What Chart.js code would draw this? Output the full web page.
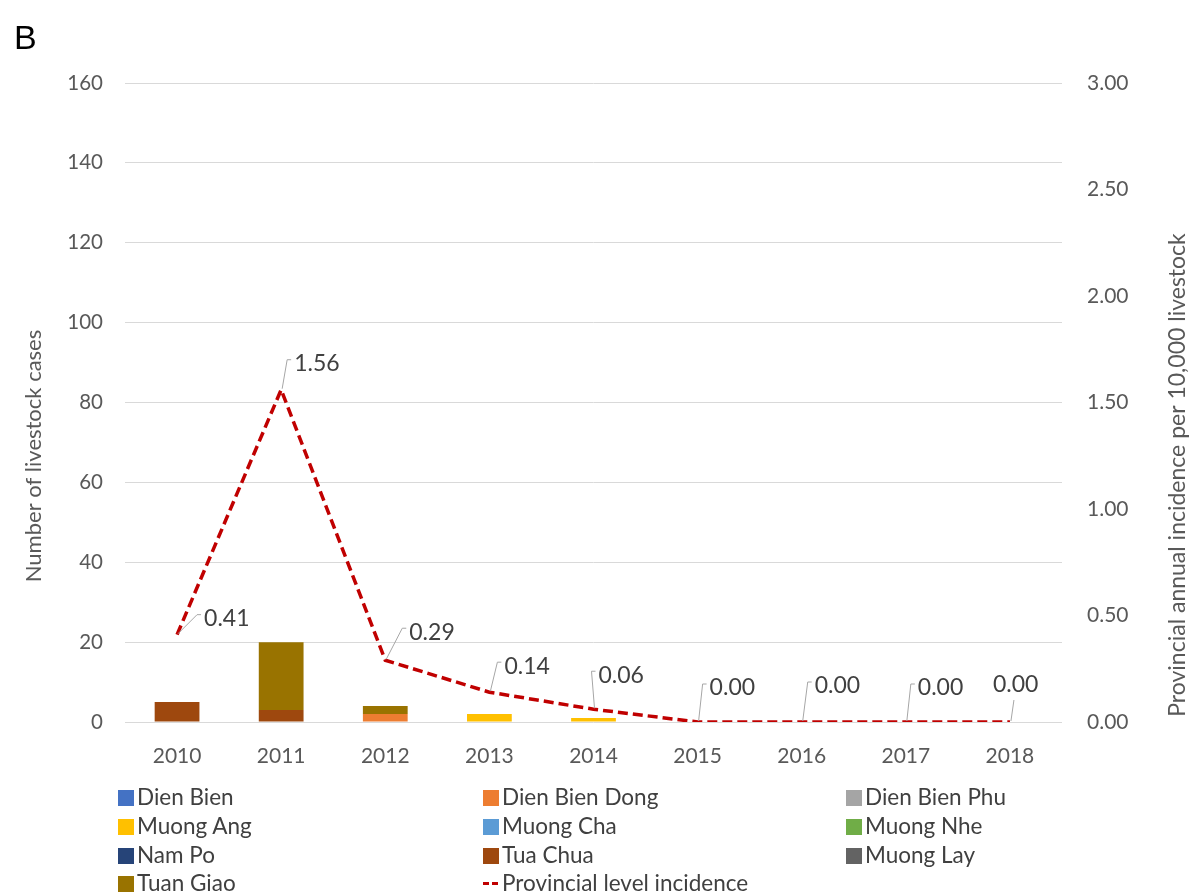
<!DOCTYPE html>
<html>
<head>
<meta charset="utf-8">
<script src="https://cdn.jsdelivr.net/npm/chart.js@4/dist/chart.umd.min.js"></script>
<style>
  html, body { margin: 0; padding: 0; background: #fff; }
  #wrap { position: relative; width: 1191px; height: 896px; overflow: hidden; }
  #chart { position: absolute; left: 0; top: 0; }
  #panel { position: absolute; left: 14px; top: 18px; font: 34px "Liberation Sans", Arial, sans-serif; color: #000; }
  .lg { position: absolute; font: 22.5px Lato, "Open Sans", sans-serif; color: #404040; white-space: nowrap; line-height: 24px; }
  .lg i { display: inline-block; width: 16px; height: 16px; vertical-align: -1px; margin-right: 3px; }
  .lg b { display: inline-block; width: 16px; height: 3px; vertical-align: 6px; margin-right: 3px;
          background: repeating-linear-gradient(90deg, #C00000 0 6px, transparent 6px 9px); }
</style>
</head>
<body>
<div id="wrap">
  <canvas id="chart" width="1191" height="896"></canvas>
  <div id="panel">B</div>
  <div id="legend"></div>
</div>
<script>
// Years on the category axis
const years = ['2010', '2011', '2012', '2013', '2014', '2015', '2016', '2017', '2018'];

// Livestock cases per district and year
const dienBien     = [0, 0, 0, 0, 0, 0, 0, 0, 0];
const dienBienDong = [0, 0, 2, 0, 0, 0, 0, 0, 0];
const dienBienPhu  = [0, 0, 0, 0, 0, 0, 0, 0, 0];
const muongAng     = [0, 0, 0, 2, 1, 0, 0, 0, 0];
const muongCha     = [0, 0, 0, 0, 0, 0, 0, 0, 0];
const muongNhe     = [0, 0, 0, 0, 0, 0, 0, 0, 0];
const namPo        = [0, 0, 0, 0, 0, 0, 0, 0, 0];
const tuaChua      = [5, 3, 0, 0, 0, 0, 0, 0, 0];
const muongLay     = [0, 0, 0, 0, 0, 0, 0, 0, 0];
const tuanGiao     = [0, 17, 2, 0, 0, 0, 0, 0, 0];

// Provincial annual incidence per 10,000 livestock
const incidence = [0.41, 1.56, 0.29, 0.14, 0.06, 0.00, 0.00, 0.00, 0.00];

// Axis tick values
const leftTicks = [0, 20, 40, 60, 80, 100, 120, 140, 160];
const rightTicks = [0, 0.5, 1, 1.5, 2, 2.5, 3];

const districts = [
  ['Dien Bien', dienBien, '#4472C4'],
  ['Dien Bien Dong', dienBienDong, '#ED7D31'],
  ['Dien Bien Phu', dienBienPhu, '#A5A5A5'],
  ['Muong Ang', muongAng, '#FFC000'],
  ['Muong Cha', muongCha, '#5B9BD5'],
  ['Muong Nhe', muongNhe, '#70AD47'],
  ['Nam Po', namPo, '#264478'],
  ['Tua Chua', tuaChua, '#9E480E'],
  ['Muong Lay', muongLay, '#636363'],
  ['Tuan Giao', tuanGiao, '#997300']
];

const FONT = 'Lato, "Open Sans", sans-serif';
const TEXT = '#595959';

// Placement of each value callout relative to its point: text left offset, text centre offset, hook
const callouts = [
  {dx: 27, dy: -17, hook: true},
  {dx: 13, dy: -27, hook: true},
  {dx: 24, dy: -29, hook: true},
  {dx: 15, dy: -27, hook: true},
  {dx: 5,  dy: -35, hook: true},
  {dx: 12, dy: -35, hook: true},
  {dx: 13, dy: -37, hook: true},
  {dx: 12, dy: -35, hook: true},
  {dx: -17, dy: -38, hook: false}
];

const calloutPlugin = {
  id: 'callouts',
  afterDatasetsDraw(chart) {
    const idx = chart.data.datasets.findIndex(d => d.type === 'line');
    const meta = chart.getDatasetMeta(idx);
    const ctx = chart.ctx;
    ctx.save();
    ctx.font = '23px ' + FONT;
    ctx.textBaseline = 'middle';
    ctx.textAlign = 'left';
    meta.data.forEach((pt, i) => {
      const c = callouts[i];
      const tx = pt.x + c.dx, ty = pt.y + c.dy;
      ctx.strokeStyle = '#a6a6a6';
      ctx.lineWidth = 1;
      ctx.beginPath();
      if (c.hook) {
        ctx.moveTo(pt.x + 1, pt.y - 1);
        ctx.lineTo(tx - 7, ty - 3);
        ctx.lineTo(tx - 3, ty - 3);
      } else {
        ctx.moveTo(pt.x + 1, pt.y - 1);
        ctx.lineTo(pt.x + 4, ty + 16);
      }
      ctx.stroke();
      ctx.fillStyle = '#404040';
      ctx.fillText(incidence[i].toFixed(2), tx, ty + 1);
    });
    ctx.restore();
  }
};

// Axis titles, placed beside the tick columns
const axisTitlePlugin = {
  id: 'axisTitles',
  afterDraw(chart) {
    const draw = (text, x, y, size) => {
      const ctx = chart.ctx;
      ctx.save();
      ctx.font = size + 'px ' + FONT;
      ctx.fillStyle = TEXT;
      ctx.textAlign = 'center';
      ctx.textBaseline = 'middle';
      ctx.translate(x, y);
      ctx.rotate(-Math.PI / 2);
      ctx.fillText(text, 0, 0);
      ctx.restore();
    };
    draw('Number of livestock cases', 34, 456, 22);
    draw('Provincial annual incidence per 10,000 livestock', 1178, 475, 23);
  }
};

const datasets = districts.map(([name, values, color]) => ({
  type: 'bar',
  label: name,
  data: values,
  backgroundColor: color,
  yAxisID: 'y',
  stack: 'cases',
  order: 1,
  categoryPercentage: 1,
  barPercentage: 0.43
}));
datasets.push({
  type: 'line',
  label: 'Provincial level incidence',
  data: incidence,
  yAxisID: 'y1',
  borderColor: '#C00000',
  borderWidth: 3.5,
  borderDash: [10, 5],
  pointRadius: 0,
  tension: 0,
  fill: false,
  order: 0
});

new Chart(document.getElementById('chart'), {
  data: { labels: years, datasets },
  options: {
    responsive: false,
    animation: false,
    layout: { padding: { top: 83, left: 0, right: 0, bottom: 0 } },
    plugins: { legend: { display: false }, tooltip: { enabled: false } },
    scales: {
      x: {
        stacked: true,
        grid: { display: false },
        border: { display: false },
        ticks: { color: TEXT, font: { size: 21, family: FONT }, padding: 14 },
        afterFit(s) { s.height = 174; }
      },
      y: {
        position: 'left',
        stacked: true,
        min: 0, max: 160,
        afterBuildTicks(s) { s.ticks = leftTicks.map(v => ({ value: v })); },
        grid: { color: '#d9d9d9', lineWidth: 1, drawTicks: false },
        border: { display: false },
        ticks: { color: TEXT, font: { size: 20.5, family: FONT }, padding: 22 },
        afterFit(s) { s.width = 125; }
      },
      y1: {
        position: 'right',
        min: 0, max: 3,
        afterBuildTicks(s) { s.ticks = rightTicks.map(v => ({ value: v })); },
        grid: { drawOnChartArea: false, drawTicks: false },
        border: { display: false },
        ticks: { color: TEXT, font: { size: 21, family: FONT }, padding: 25,
                 callback: v => Number(v).toFixed(2) },
        afterFit(s) { s.width = 129; }
      }
    }
  },
  plugins: [calloutPlugin, axisTitlePlugin]
});

// Legend laid out in three columns below the plot
const legendEl = document.getElementById('legend');
const colX = [118, 483, 846];
const rowY = [785, 814, 843, 871];
const items = districts.map(d => ({ name: d[0], color: d[2] }));
items.push({ name: 'Provincial level incidence', line: true });
items.forEach((it, i) => {
  const el = document.createElement('div');
  el.className = 'lg';
  el.style.left = colX[i % 3] + 'px';
  el.style.top = rowY[Math.floor(i / 3)] + 'px';
  el.innerHTML = (it.line ? '<b></b>' : '<i style="background:' + it.color + '"></i>') + it.name;
  legendEl.appendChild(el);
});
</script>
</body>
</html>
